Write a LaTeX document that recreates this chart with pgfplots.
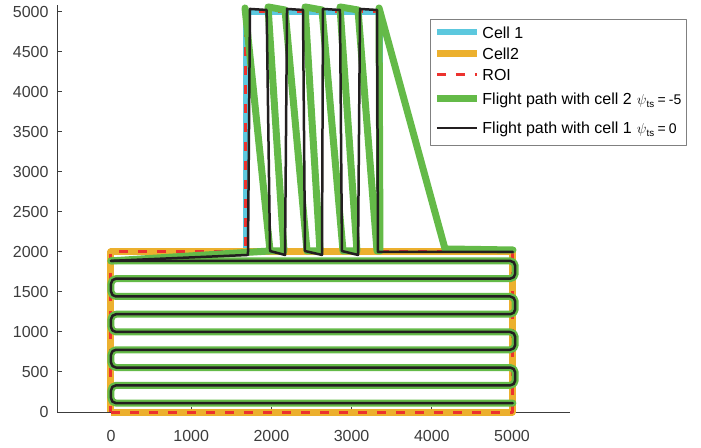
\documentclass[border=0pt]{standalone}
\usepackage{fontspec}
\setmainfont{Liberation Sans}
\usepackage{pgfplots}
\pgfplotsset{compat=1.18}
\definecolor{cyanc}{RGB}{92,200,222}
\definecolor{orangec}{RGB}{236,176,46}
\definecolor{redc}{RGB}{236,50,46}
\definecolor{greenc}{RGB}{100,186,72}
\definecolor{blackc}{RGB}{35,31,32}
\definecolor{axisc}{RGB}{60,60,60}
\newcommand{\psits}[1]{{\fontsize{14pt}{16pt}\selectfont$\psi$\textsubscript{ts}\hspace{3pt}=\hspace{3pt}#1}}
\begin{document}
\fontsize{16pt}{19pt}\selectfont
\begin{tikzpicture}
\path[use as bounding box] (0,0) rectangle (701pt,447pt);
\begin{axis}[
  at={(57pt,35pt)}, anchor=south west,
  scale only axis, width=513pt, height=406.5pt,
  xmin=-673, xmax=5723, ymin=0, ymax=5081,
  axis x line=bottom, axis y line=left,
  axis line style={-, axisc, line width=1pt},
  tick align=inside, major tick length=5pt,
  tick style={axisc, line width=1pt},
  xtick={0,1000,...,5000}, ytick={0,500,...,5000},
  ticklabel style={font=\fontsize{16pt}{19pt}\selectfont, text=axisc},
  xticklabel style={yshift=-13pt},
  yticklabel style={xshift=-3pt},
  /pgf/number format/assume math mode=true,
  scaled ticks=false, /pgf/number format/set thousands separator={},
  clip=false,
  legend style={at={(0.727,0.967)}, anchor=north west, draw=gray, line width=1pt,
    font=\fontsize{16pt}{19pt}\selectfont, row sep=2pt, inner sep=3pt,
    nodes={inner sep=2pt, text depth=}},
  legend cell align=left,
  legend image code/.code={\draw[#1,line cap=butt] (0pt,0pt) -- (40pt,0pt);},
  line join=round,
]
\addplot[cyanc, line width=6pt] coordinates {(1680,2000) (1680,5000) (3360,5000) (3360,2000) (1680,2000)};
\addlegendentry{\rule[-2pt]{0pt}{16pt}Cell 1}
\addplot[orangec, line width=7pt] coordinates {(0,0) (5000,0) (5000,2000) (0,2000) (0,0)};
\addlegendentry{\rule[-1.5pt]{0pt}{15pt}Cell2}
\addplot[redc, line width=3pt, dash pattern=on 9pt off 10pt] coordinates {(0,0) (5000,0) (5000,2000) (3360,2000) (3360,5000) (1680,5000) (1680,2000) (0,2000) (0,0)};
\addlegendentry{\rule[-1.5pt]{0pt}{15pt}ROI}
% green path (cell 2, psi=-5)
\addplot[greenc, line width=7pt, rounded corners=5pt, line cap=round] coordinates {
(0,1889) (5040,1889) (5040,1667) (0,1667) (0,1444) (5040,1444) (5040,1222) (0,1222)
(0,1000) (5040,1000) (5040,778) (0,778) (0,556) (5040,556) (5040,333) (0,333) (0,111) (5010,111)};
\addlegendentry{\rule[-4.5pt]{0pt}{21pt}Flight path with cell 2\hspace{5pt}\psits{-5}}
\addplot[greenc, line width=7pt, line cap=round, forget plot] coordinates {
(0,1889) (1983,2013) (1671,5050) (1983,2013) (2157,2013) (1958,5063) (2170,5025)
(2444,2013) (2606,2013) (2419,5063) (2631,5025) (2893,2013) (3067,2013) (2855,5063)
(3080,5025) (3317,2013) (3354,2013) (3342,5050) (4165,2038) (5012,2025)};
% black path (cell 1, psi=0)
\addplot[blackc, line width=2.5pt, rounded corners=5pt, line cap=round] coordinates {
(0,1889) (5040,1889) (5040,1667) (0,1667) (0,1444) (5040,1444) (5040,1222) (0,1222)
(0,1000) (5040,1000) (5040,778) (0,778) (0,556) (5040,556) (5040,333) (0,333) (0,111) (5010,111)};
\addlegendentry{\rule[-6.5pt]{0pt}{25pt}Flight path with cell 1\hspace{5pt}\psits{0}}
\addplot[blackc, line width=2.5pt, line cap=round, forget plot] coordinates {
(0,1889) (1708,1963) (1733,5038) (1941,5025) (1983,2012) (2170,1963) (2195,5038)
(2394,5025) (2419,2012) (2631,1963) (2643,5038) (2855,5025) (2880,2012) (3080,1963)
(3105,5038) (3317,5025) (3329,2000) (5010,2000)};
\end{axis}
\end{tikzpicture}
\end{document}
